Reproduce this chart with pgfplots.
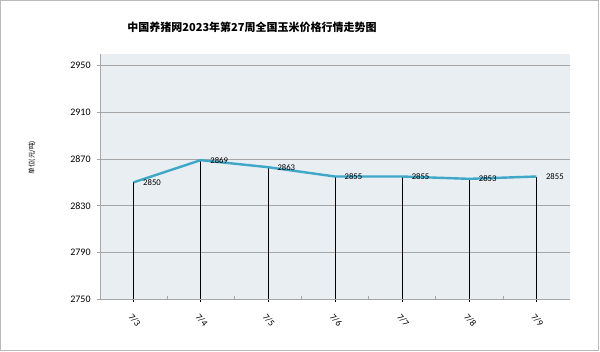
\documentclass[border=0pt]{standalone}
\usepackage{pgfplots}
\pgfplotsset{compat=1.18}
\usepackage{fontspec}
\setmainfont{Carlito}
\newfontfamily\cjk{Noto Sans CJK SC}
\definecolor{bgc}{HTML}{E8EEF2}
\definecolor{linec}{HTML}{3FA7C7}
\definecolor{gridc}{HTML}{A6A6A6}
\begin{document}
\begin{tikzpicture}
\path[use as bounding box] (0,0) rectangle (450pt,263.25pt);
\draw[gray!55, line width=0.75pt] (0.4pt,0.4pt) rectangle (449.2pt,262.6pt);
\node[font=\cjk\bfseries\fontsize{8.25pt}{10pt}\selectfont] at (189pt,243pt) {中国养猪网2023年第27周全国玉米价格行情走势图};
\node[font=\cjk\fontsize{5pt}{6pt}\selectfont, rotate=90] at (24pt,145pt) {单位(元/吨)};
\begin{axis}[at={(75pt,39pt)}, anchor=south west, scale only axis,
  width=352.5pt, height=183.75pt,
  xmin=-0.5, xmax=6.5, ymin=2750, ymax=2960,
  ytick={2750,2790,2830,2870,2910,2950},
  xtick={0,1,2,3,4,5,6},
  xticklabels={7/3,7/4,7/5,7/6,7/7,7/8,7/9},
  minor xtick={0.5,1.5,2.5,3.5,4.5,5.5},
  axis x line*=bottom, axis y line*=left,
  axis line style={gridc, line width=0.6pt},
  ymajorgrids, grid style={gridc, line width=0.6pt},
  axis background/.style={fill=bgc},
  tick align=outside,
  major tick length=2.5pt, minor tick length=2pt,
  xtick style={black, line width=0.5pt},
  minor x tick style={gridc, line width=0.5pt, yshift=2pt},
  ytick style={gridc, line width=0.6pt},
  ticklabel style={font=\fontsize{7.5pt}{9pt}\selectfont},
  xticklabel style={rotate=-50, anchor=center, xshift=10.8pt, yshift=-8.1pt, font=\fontsize{7pt}{8pt}\selectfont},
  yticklabel style={xshift=-1pt},
  /pgf/number format/assume math mode=true,
  /pgf/number format/.cd, use comma, 1000 sep={},
]
\addplot[ycomb, black, line width=0.5pt, no marks] coordinates {(0,2850) (1,2869) (2,2863) (3,2855) (4,2855) (5,2853) (6,2855)};
\addplot[linec, line width=1.8pt, no marks,
  nodes near coords,
  every node near coord/.append style={anchor=west, xshift=3pt, black, font=\fontsize{6.5pt}{7pt}\selectfont, /pgf/number format/1000 sep={}}]
  coordinates {(0,2850) (1,2869) (2,2863) (3,2855) (4,2855) (5,2853) (6,2855)};
\end{axis}
\end{tikzpicture}
\end{document}
